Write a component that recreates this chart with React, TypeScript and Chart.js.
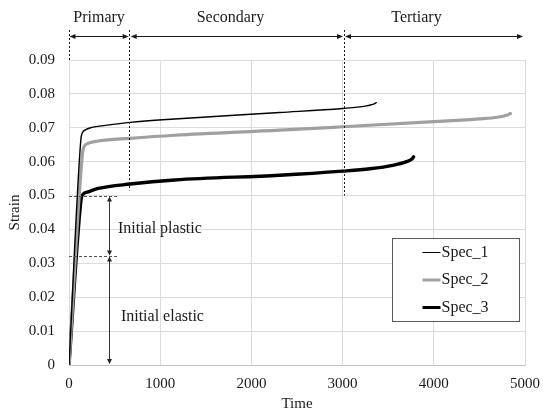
import React, { useEffect, useRef } from 'react';
import { Chart, registerables } from 'chart.js';

Chart.register(...registerables);

// Creep curves: strain against time for three specimens
const seriesNames = ['Spec_1', 'Spec_2', 'Spec_3'];

const spec1Time = [0, 130, 145, 180, 250, 400, 670, 1160, 2310, 3000, 3250, 3330, 3370];
const spec1Strain = [0, 0.0665, 0.0684, 0.0694, 0.0701, 0.0707, 0.0716, 0.0726, 0.0745, 0.0757, 0.0764, 0.0769, 0.0774];

const spec2Time = [0, 148, 163, 210, 320, 670, 1160, 2310, 3000, 4000, 4500, 4700, 4800, 4840];
const spec2Strain = [0, 0.0625, 0.0643, 0.0654, 0.0661, 0.0669, 0.0678, 0.0693, 0.0703, 0.0718, 0.0726, 0.0731, 0.0737, 0.0742];

const spec3Time = [0, 132, 148, 210, 320, 670, 1160, 2310, 3000, 3300, 3550, 3700, 3760, 3778];
const spec3Strain = [0, 0.0488, 0.0502, 0.0511, 0.0521, 0.0534, 0.0546, 0.056, 0.0572, 0.0579, 0.0589, 0.06, 0.0608, 0.0614];

const xTickLabels = ['0', '1000', '2000', '3000', '4000', '5000'];
const yTickLabels = ['0', '0.01', '0.02', '0.03', '0.04', '0.05', '0.06', '0.07', '0.08', '0.09'];

// Creep stages along the time axis
const stageNames = ['Primary', 'Secondary', 'Tertiary'];
const stageBounds = [0, 660, 3010, 5000];
const stageLabelTimes = [330, 1770, 3810];
const stageDividerBottoms = [0.09, 0.0515, 0.05];

// Initial strain split
const initialPlasticTop = 0.05;
const initialElasticTop = 0.0322;
const splitArrowTime = 439;
const splitGuideEnd = 536;
const splitTexts = ['Initial plastic', 'Initial elastic'];
const splitTextTimes = [536, 569];
const splitTextStrains = [0.0401, 0.01425];

const FONT = '"Liberation Serif", "Times New Roman", serif';
const INK = '#1a1a1a';

const seriesColors = ['#000000', '#a0a0a0', '#000000'];
const seriesWidths = [1.4, 3.2, 3.4];
const legendWidths = [1, 3, 3];

const toPoints = (t: number[], s: number[]) => t.map((v, i) => ({ x: v, y: s[i] }));

function hArrow(ctx: CanvasRenderingContext2D, x1: number, x2: number, y: number) {
  ctx.beginPath();
  ctx.moveTo(x1 + 2, y);
  ctx.lineTo(x2 - 2, y);
  ctx.stroke();
  ctx.beginPath();
  ctx.moveTo(x1, y);
  ctx.lineTo(x1 + 6, y - 2.5);
  ctx.lineTo(x1 + 6, y + 2.5);
  ctx.closePath();
  ctx.fill();
  ctx.beginPath();
  ctx.moveTo(x2, y);
  ctx.lineTo(x2 - 6, y - 2.5);
  ctx.lineTo(x2 - 6, y + 2.5);
  ctx.closePath();
  ctx.fill();
}

function vArrow(ctx: CanvasRenderingContext2D, x: number, y1: number, y2: number) {
  ctx.beginPath();
  ctx.moveTo(x, y1 + 2);
  ctx.lineTo(x, y2 - 2);
  ctx.stroke();
  ctx.beginPath();
  ctx.moveTo(x, y1);
  ctx.lineTo(x - 2.5, y1 + 5);
  ctx.lineTo(x + 2.5, y1 + 5);
  ctx.closePath();
  ctx.fill();
  ctx.beginPath();
  ctx.moveTo(x, y2);
  ctx.lineTo(x - 2.5, y2 - 5);
  ctx.lineTo(x + 2.5, y2 - 5);
  ctx.closePath();
  ctx.fill();
}

const annotations = {
  id: 'creepAnnotations',
  afterDatasetsDraw(chart: any) {
    const { ctx, chartArea } = chart;
    const x = chart.scales.x;
    const y = chart.scales.y;
    ctx.save();

    // stage dividers
    ctx.strokeStyle = INK;
    ctx.lineWidth = 1;
    ctx.setLineDash([2, 2]);
    const dividerTop = 30;
    for (let i = 0; i < 3; i++) {
      const px = Math.round(x.getPixelForValue(stageBounds[i])) + 0.5;
      ctx.beginPath();
      ctx.moveTo(px, dividerTop);
      ctx.lineTo(px, y.getPixelForValue(stageDividerBottoms[i]));
      ctx.stroke();
    }

    // horizontal guides for the initial strain split
    ctx.strokeStyle = '#555';
    ctx.setLineDash([3, 2]);
    [initialPlasticTop, initialElasticTop].forEach((v) => {
      const py = Math.round(y.getPixelForValue(v)) + 0.5;
      ctx.beginPath();
      ctx.moveTo(chartArea.left, py);
      ctx.lineTo(x.getPixelForValue(splitGuideEnd), py);
      ctx.stroke();
    });
    ctx.setLineDash([]);

    // stage arrows
    ctx.strokeStyle = INK;
    ctx.fillStyle = INK;
    const arrowY = 36.5;
    for (let i = 0; i < 3; i++) {
      const a = x.getPixelForValue(stageBounds[i]) + (i === 0 ? 0.5 : 1.5);
      const b = x.getPixelForValue(stageBounds[i + 1]) - (i === 2 ? 2 : 0.5);
      hArrow(ctx, a, b, arrowY);
    }

    // initial plastic / elastic arrows
    ctx.strokeStyle = '#333';
    ctx.fillStyle = '#222';
    const ax = Math.round(x.getPixelForValue(splitArrowTime)) + 0.5;
    const yTop = y.getPixelForValue(initialPlasticTop) + 1;
    const yMid = y.getPixelForValue(initialElasticTop);
    const yBot = y.getPixelForValue(0) - 1;
    vArrow(ctx, ax, yTop, yMid - 0.5);
    vArrow(ctx, ax, yMid + 0.5, yBot);

    // texts
    ctx.fillStyle = INK;
    ctx.font = `16px ${FONT}`;
    ctx.textBaseline = 'middle';
    ctx.textAlign = 'center';
    stageNames.forEach((n, i) => {
      ctx.fillText(n, x.getPixelForValue(stageLabelTimes[i]), 18);
    });
    ctx.textAlign = 'left';
    splitTexts.forEach((t, i) => {
      ctx.fillText(t, x.getPixelForValue(splitTextTimes[i]), y.getPixelForValue(splitTextStrains[i]));
    });
    ctx.restore();
  },
  afterDraw(chart: any) {
    const { ctx, chartArea } = chart;
    ctx.save();
    const bx = Math.round(chartArea.right - 133) + 0.5;
    const by = Math.round(chartArea.top + 178) + 0.5;
    const bw = 127;
    const bh = 83;
    ctx.fillStyle = '#ffffff';
    ctx.fillRect(bx, by, bw, bh);
    ctx.strokeStyle = '#595959';
    ctx.lineWidth = 1;
    ctx.strokeRect(bx, by, bw, bh);
    ctx.font = `16px ${FONT}`;
    ctx.textBaseline = 'middle';
    ctx.textAlign = 'left';
    chart.data.datasets.forEach((ds: any, i: number) => {
      const rowY = by + 14 + i * 27.5;
      ctx.strokeStyle = ds.borderColor;
      ctx.lineWidth = legendWidths[i];
      ctx.beginPath();
      ctx.moveTo(bx + 30, rowY);
      ctx.lineTo(bx + 48, rowY);
      ctx.stroke();
      ctx.fillStyle = INK;
      ctx.fillText(ds.label, bx + 49, rowY);
    });
    ctx.restore();
  },
};

export default function App() {
  const canvasRef = useRef<HTMLCanvasElement | null>(null);

  useEffect(() => {
    const canvas = canvasRef.current;
    if (!canvas) return;
    const series = [
      toPoints(spec1Time, spec1Strain),
      toPoints(spec2Time, spec2Strain),
      toPoints(spec3Time, spec3Strain),
    ];
    const chart = new Chart(canvas, {
      type: 'line',
      data: {
        datasets: series.map((pts, i) => ({
          label: seriesNames[i],
          data: pts,
          borderColor: seriesColors[i],
          backgroundColor: seriesColors[i],
          borderWidth: seriesWidths[i],
          pointRadius: 0,
          fill: false,
          cubicInterpolationMode: 'monotone' as const,
          borderCapStyle: 'round' as const,
          borderJoinStyle: 'round' as const,
        })),
      },
      options: {
        responsive: false,
        animation: false,
        devicePixelRatio: 1,
        layout: { padding: { left: 0, top: 60, right: 18, bottom: 0 } },
        plugins: {
          legend: { display: false },
          tooltip: { enabled: false },
        },
        scales: {
          x: {
            type: 'linear',
            min: 0,
            max: 5000,
            afterFit: (s: any) => {
              s.height = 47;
              s.paddingLeft = 0;
              s.paddingRight = 0;
            },
            ticks: {
              stepSize: 1000,
              padding: 10,
              color: INK,
              font: { family: FONT, size: 15 },
              maxRotation: 0,
              callback: (_v: any, i: number) => xTickLabels[i],
            },
            grid: { color: '#dcdcdc', drawTicks: false },
            border: { color: '#c4c4c4' },
            title: {
              display: true,
              text: 'Time',
              color: INK,
              font: { family: FONT, size: 15, lineHeight: 1 },
              padding: { top: 0, bottom: 0 },
            },
          },
          y: {
            type: 'linear',
            min: 0,
            max: 0.09,
            afterFit: (s: any) => {
              s.width = 69;
              s.paddingTop = 0;
              s.paddingBottom = 0;
            },
            ticks: {
              stepSize: 0.01,
              padding: 14,
              color: INK,
              font: { family: FONT, size: 15 },
              callback: (_v: any, i: number) => yTickLabels[i],
            },
            grid: { color: '#dcdcdc', drawTicks: false },
            border: { color: '#dcdcdc' },
            title: {
              display: true,
              text: 'Strain',
              color: INK,
              font: { family: FONT, size: 15, lineHeight: 1 },
              padding: { top: 8, bottom: 0 },
            },
          },
        },
      },
      plugins: [annotations],
    });
    return () => chart.destroy();
  }, []);

  return (
    <div style={{ position: 'fixed', left: 0, top: 0, width: 543, height: 412, background: '#fff' }}>
      <canvas ref={canvasRef} width={543} height={412} style={{ display: 'block' }} />
    </div>
  );
}
